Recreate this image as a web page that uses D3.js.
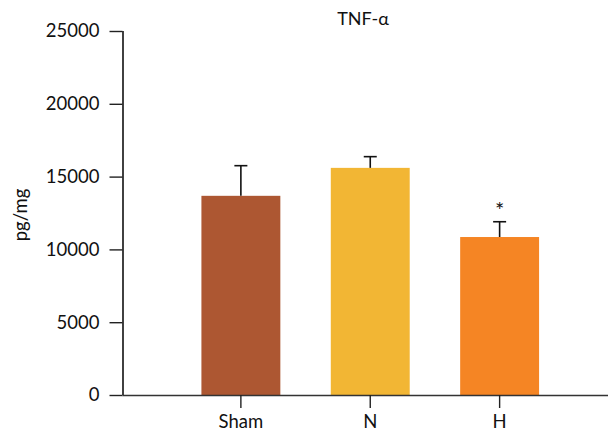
<!DOCTYPE html>
<html>
<head>
<meta charset="utf-8">
<script src="https://cdn.jsdelivr.net/npm/d3@7"></script>
<style>
  html, body { margin: 0; padding: 0; background: #fff; }
  svg { display: block; }
  text { font-family: Lato, "Open Sans", sans-serif; fill: #111; }
</style>
</head>
<body>
<svg id="chart" width="608" height="433"></svg>
<script>
const title = "TNF-α";
const yLabel = "pg/mg";
const categories = ["Sham", "N", "H"];
const means = [13680, 15600, 10850];
const errors = [2070, 770, 1050];
const significance = ["", "", "*"];
const colors = ["#AD5732", "#F2B634", "#F58524"];
const yTicks = [0, 5000, 10000, 15000, 20000, 25000];

const svg = d3.select("#chart");
const x0 = 122.5, yBottom = 395, yTop = 31;

const y = d3.scaleLinear().domain([0, 25000]).range([yBottom, yTop]);
const x = d3.scaleBand().domain(categories)
  .range([x0, 618]).paddingInner(0.39).paddingOuter(0.61);

// bars
svg.selectAll("rect.bar").data(categories).join("rect")
  .attr("class", "bar")
  .attr("x", d => x(d))
  .attr("width", x.bandwidth())
  .attr("y", (d, i) => y(means[i]))
  .attr("height", (d, i) => y(0) - y(means[i]))
  .attr("fill", (d, i) => colors[i]);

// error bars (upper only)
const eb = svg.selectAll("g.err").data(categories).join("g").attr("class", "err");
eb.append("line")
  .attr("x1", d => x(d) + x.bandwidth() / 2)
  .attr("x2", d => x(d) + x.bandwidth() / 2)
  .attr("y1", (d, i) => y(means[i]))
  .attr("y2", (d, i) => y(means[i] + errors[i]))
  .attr("stroke", "#111").attr("stroke-width", 1.6);
eb.append("line")
  .attr("x1", d => x(d) + x.bandwidth() / 2 - 6.5)
  .attr("x2", d => x(d) + x.bandwidth() / 2 + 6.5)
  .attr("y1", (d, i) => y(means[i] + errors[i]))
  .attr("y2", (d, i) => y(means[i] + errors[i]))
  .attr("stroke", "#111").attr("stroke-width", 1.6);

// significance marks
svg.selectAll("text.sig").data(categories).join("text")
  .attr("class", "sig")
  .attr("x", d => x(d) + x.bandwidth() / 2)
  .attr("y", (d, i) => y(means[i] + errors[i]) - 4)
  .attr("text-anchor", "middle")
  .attr("font-size", 22)
  .text((d, i) => significance[i]);

// y axis
const yAxis = svg.append("g")
  .attr("transform", `translate(${x0},0)`)
  .call(d3.axisLeft(y).tickValues(yTicks).tickSize(13).tickPadding(10).tickFormat(d3.format("d")));
yAxis.selectAll("text").attr("font-size", 18.5).attr("font-family", "Lato, sans-serif").attr("fill", "#111");
yAxis.selectAll("line").attr("stroke", "#222").attr("stroke-width", 1.4);
yAxis.select(".domain").attr("stroke", "#111").attr("stroke-width", 1.6)
  .attr("d", `M0.5,${yTop}V${yBottom}`);

// x axis
const xAxis = svg.append("g")
  .attr("transform", `translate(0,${yBottom})`)
  .call(d3.axisBottom(x).tickSize(13).tickPadding(7));
xAxis.selectAll("text").attr("font-size", 18.5).attr("font-family", "Lato, sans-serif").attr("fill", "#111");
xAxis.selectAll("line").attr("stroke", "#222").attr("stroke-width", 1.4);
xAxis.select(".domain").attr("stroke", "#333").attr("stroke-width", 1.4)
  .attr("d", `M${x0},0.5H608`);

// title
svg.append("text")
  .attr("x", 363).attr("y", 25)
  .attr("text-anchor", "middle")
  .attr("font-size", 18)
  .text(title);

// y label
svg.append("text")
  .attr("transform", `translate(27,215) rotate(-90)`)
  .attr("text-anchor", "middle")
  .attr("font-size", 18.5)
  .text(yLabel);
</script>
</body>
</html>
